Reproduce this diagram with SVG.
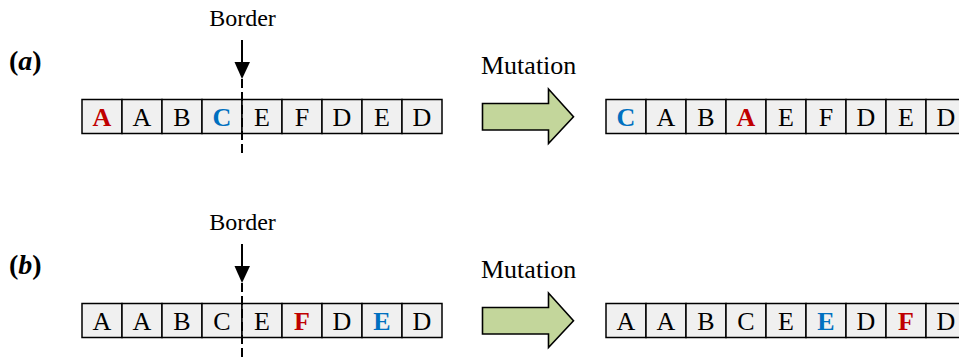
<svg xmlns="http://www.w3.org/2000/svg" width="959" height="359" viewBox="0 0 959 359">
<style>
text{font-family:"Liberation Serif","Times New Roman",serif;fill:#000}
.lbl{font-size:24px;text-anchor:middle}
.mut{font-size:26px}
.tag{font-size:28px;font-weight:bold}
.c{font-size:26px;text-anchor:middle}
.red{fill:#c00000;font-weight:bold}
.blue{fill:#0070c0;font-weight:bold}
.cell{fill:#f0f0f0;stroke:#000;stroke-width:1.5}
.dash{stroke:#000;stroke-width:2;stroke-dasharray:9 4;fill:none}
.shaft{stroke:#000;stroke-width:2;fill:none}
.big{fill:#c3d69b;stroke:#000;stroke-width:1.6;stroke-linejoin:miter}
</style>
<defs>
<g id="row">
<rect class="cell" x="0" y="0" width="40" height="34"/>
<rect class="cell" x="40" y="0" width="40" height="34"/>
<rect class="cell" x="80" y="0" width="40" height="34"/>
<rect class="cell" x="120" y="0" width="40" height="34"/>
<rect class="cell" x="160" y="0" width="40" height="34"/>
<rect class="cell" x="200" y="0" width="40" height="34"/>
<rect class="cell" x="240" y="0" width="40" height="34"/>
<rect class="cell" x="280" y="0" width="40" height="34"/>
<rect class="cell" x="320" y="0" width="40" height="34"/>
</g>
</defs>
<text class="tag" x="9" y="70">(<tspan font-style="italic">a</tspan>)</text>
<text class="tag" x="9" y="274">(<tspan font-style="italic">b</tspan>)</text>
<text class="lbl" x="242.5" y="26">Border</text>
<text class="lbl" x="242.5" y="230">Border</text>
<text class="mut" x="481" y="74">Mutation</text>
<text class="mut" x="481" y="278">Mutation</text>
<g id="row-a-before">
<use href="#row" x="82" y="99.5"/>
<text class="c red" x="102" y="126">A</text>
<text class="c" x="142" y="126">A</text>
<text class="c" x="182" y="126">B</text>
<text class="c blue" x="222" y="126">C</text>
<text class="c" x="262" y="126">E</text>
<text class="c" x="302" y="126">F</text>
<text class="c" x="342" y="126">D</text>
<text class="c" x="382" y="126">E</text>
<text class="c" x="422" y="126">D</text>
</g>
<g id="row-a-after">
<use href="#row" x="606" y="99.5"/>
<text class="c blue" x="626" y="126">C</text>
<text class="c" x="666" y="126">A</text>
<text class="c" x="706" y="126">B</text>
<text class="c red" x="746" y="126">A</text>
<text class="c" x="786" y="126">E</text>
<text class="c" x="826" y="126">F</text>
<text class="c" x="866" y="126">D</text>
<text class="c" x="906" y="126">E</text>
<text class="c" x="946" y="126">D</text>
</g>
<g id="row-b-before">
<use href="#row" x="82" y="303.5"/>
<text class="c" x="102" y="330">A</text>
<text class="c" x="142" y="330">A</text>
<text class="c" x="182" y="330">B</text>
<text class="c" x="222" y="330">C</text>
<text class="c" x="262" y="330">E</text>
<text class="c red" x="302" y="330">F</text>
<text class="c" x="342" y="330">D</text>
<text class="c blue" x="382" y="330">E</text>
<text class="c" x="422" y="330">D</text>
</g>
<g id="row-b-after">
<use href="#row" x="606" y="303.5"/>
<text class="c" x="626" y="330">A</text>
<text class="c" x="666" y="330">A</text>
<text class="c" x="706" y="330">B</text>
<text class="c" x="746" y="330">C</text>
<text class="c" x="786" y="330">E</text>
<text class="c blue" x="826" y="330">E</text>
<text class="c" x="866" y="330">D</text>
<text class="c red" x="906" y="330">F</text>
<text class="c" x="946" y="330">D</text>
</g>
<g id="connectors">
<line class="shaft" x1="242" y1="40" x2="242" y2="64"/>
<polygon points="234.5,62 250,62 242,79" fill="#000"/>
<line class="dash" x1="242" y1="79" x2="242" y2="155"/>
<line class="shaft" x1="242" y1="244" x2="242" y2="268"/>
<polygon points="234.5,266 250,266 242,283" fill="#000"/>
<line class="dash" x1="242" y1="283" x2="242" y2="358"/>
<polygon class="big" points="482.5,103.5 548.5,103.5 548.5,89 573.5,116.7 548.5,143.5 548.5,130 482.5,130"/>
<polygon class="big" points="482.5,307.5 548.5,307.5 548.5,293 573.5,320.7 548.5,347.5 548.5,334 482.5,334"/>
</g>
</svg>
